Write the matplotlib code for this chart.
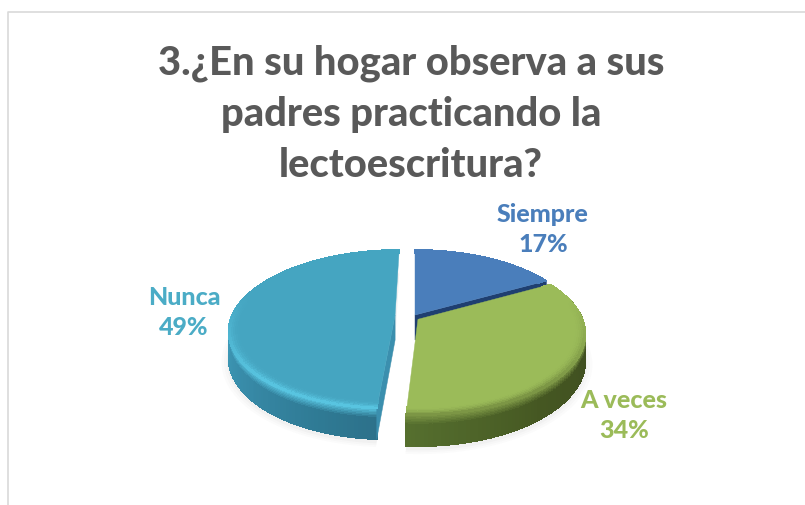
import numpy as np
import matplotlib
matplotlib.use("Agg")
import matplotlib.pyplot as plt
from matplotlib.collections import PolyCollection
from matplotlib.colors import to_rgb

title = "3.¿En su hogar observa a sus\npadres practicando la\nlectoescritura?"
categories = ["Siempre", "A veces", "Nunca"]
values = [17, 34, 49]

face_colors = {"Siempre": "#4a7ebb", "A veces": "#9bbb59", "Nunca": "#45a5c1"}
label_colors = {"Siempre": "#4a7ebb", "A veces": "#9bbb59", "Nunca": "#4bacc6"}
rim_colors = {"Siempre": "#4a7ebb", "A veces": "#7c9645", "Nunca": "#58c4e0"}
side_stops = {
    "A veces": ([60, 100, 140, 185], ["#3a4819", "#3f4e20", "#455722", "#56702f"]),
    "Nunca": ([180, 200, 230, 270, 300], ["#2c6f88", "#2f7a94", "#3789a6", "#3f9cba", "#45a5c1"]),
}
wall_colors = {"Siempre": "#1f3f70", "Nunca": "#3b8fae"}
explode = {"Siempre": (0.0, 0.0, 0.0), "A veces": (0.0, 0.018, -0.055), "Nunca": (7.0, -0.165, 0.0)}
label_pos = {"Siempre": (543, 229.5), "A veces": (624, 415.5), "Nunca": (184, 312.5)}

CX, CY, RX, RY, P, H = 415, 316, 163, 77, 0.18, 25

plt.rcParams["font.family"] = ["Lato", "DejaVu Sans"]
fig = plt.figure(figsize=(8.05, 5.06), dpi=100)
ax = fig.add_axes([0, 0, 1, 1])
ax.set_xlim(0, 805)
ax.set_ylim(506, 0)
ax.axis("off")


def proj(u, v, z=0.0, dx=0.0):
    k = 1 / (1 + P * v)
    return CX + dx + RX * u * k, CY - RY * v * k + z * H * k


def mix(a, b, t):
    a, b = np.array(to_rgb(a)), np.array(to_rgb(b))
    return tuple(a + (b - a) * float(np.clip(t, 0, 1)))


def side_color(name, deg):
    xs, cs = side_stops[name]
    rgb = np.array([to_rgb(c) for c in cs])
    return np.array([np.interp(deg, xs, rgb[:, i]) for i in range(3)])


def grid_quads(xy):
    return [[xy[i, j], xy[i + 1, j], xy[i + 1, j + 1], xy[i, j + 1]]
            for i in range(xy.shape[0] - 1) for j in range(xy.shape[1] - 1)]


bounds = np.cumsum([0] + values) / sum(values) * 360
spans = {n: (bounds[i], bounds[i + 1]) for i, n in enumerate(categories)}


def draw_shadow(name):
    a, b = spans[name]
    dx, u0, v0 = explode[name]
    t = np.radians(np.linspace(a, b, 90))
    for s, al in [(1.04, 0.02), (1.025, 0.025), (1.01, 0.03)]:
        u = np.concatenate([[0], np.sin(t) * s])
        v = np.concatenate([[0], np.cos(t) * s])
        x, y = proj(u + u0, v + v0, 1.0, dx)
        ax.fill(x, y + 3, color="#555555", alpha=al, lw=0, zorder=1)


def draw_side(name, z0):
    a, b = spans[name]
    dx, u0, v0 = explode[name]
    lo, hi = max(a, 75), min(b, 285)
    degs = np.linspace(lo, hi, 90)
    zs = np.concatenate([np.linspace(0, 0.3, 7), np.linspace(0.36, 1, 6)])
    xy = np.zeros((len(degs), len(zs), 2))
    cols = []
    for i, d in enumerate(degs):
        t = np.radians(d)
        x, y = proj(np.sin(t) + u0, np.cos(t) + v0, zs, dx)
        xy[i, :, 0], xy[i, :, 1] = x, y
    # smooth outline below the unsmoothed shading cells
    ox = np.concatenate([xy[:, 0, 0], xy[::-1, -1, 0]])
    oy = np.concatenate([xy[:, 0, 1], xy[::-1, -1, 1]])
    ax.fill(ox, oy, color=tuple(side_color(name, (lo + hi) / 2)), lw=0.6, zorder=z0)
    for i in range(len(degs) - 1):
        base = side_color(name, degs[i])
        for j in range(len(zs) - 1):
            cols.append(mix(rim_colors[name], base, zs[j] / 0.3))
    ax.add_collection(PolyCollection(grid_quads(xy), facecolors=cols, edgecolors=cols,
                                     linewidths=0.5, antialiaseds=False, zorder=z0 + 0.05))


def draw_wall(name, deg, z0):
    dx, u0, v0 = explode[name]
    t = np.radians(deg)
    r = np.array([0, 1, 1, 0])
    z = np.array([0, 0, 1, 1])
    x, y = proj(r * np.sin(t) + u0, r * np.cos(t) + v0, z, dx)
    ax.fill(x, y, color=wall_colors[name], lw=0.3, zorder=z0)


def draw_top(name, z0):
    a, b = spans[name]
    dx, u0, v0 = explode[name]
    t = np.radians(np.linspace(a, b, 120))
    u = np.concatenate([[0], np.sin(t)])
    v = np.concatenate([[0], np.cos(t)])
    x, y = proj(u + u0, v + v0, 0, dx)
    ax.fill(x, y, color=face_colors[name], lw=0.3, zorder=z0)
    rs = np.linspace(0.93, 1.0, 7)
    xy = np.zeros((len(t), len(rs), 2))
    cols = []
    for i, th in enumerate(t):
        px, py = proj(np.sin(th) * rs + u0, np.cos(th) * rs + v0, 0, dx)
        xy[i, :, 0], xy[i, :, 1] = px, py
    for i in range(len(t) - 1):
        w = np.clip(0.25 - np.cos(t[i]), 0, 1) if name != "Siempre" else 0
        for j in range(len(rs) - 1):
            f = (j / (len(rs) - 2)) ** 2
            cols.append(mix(face_colors[name], rim_colors[name], f * w))
    ax.add_collection(PolyCollection(grid_quads(xy), facecolors=cols, edgecolors=cols,
                                     linewidths=0.3, antialiaseds=False, zorder=z0 + 0.1))


draw_shadow("Nunca")
draw_shadow("A veces")
draw_side("Nunca", 2)
draw_wall("Nunca", spans["Nunca"][0], 3)
draw_top("Nunca", 4)
draw_wall("Siempre", spans["Siempre"][1], 5)
draw_top("Siempre", 6)
draw_side("A veces", 7)
draw_top("A veces", 8)

# chart frame
ax.plot([8, 8, 805], [506, 13, 13], color="#d9d9d9", lw=1.2, zorder=0)

ax.text(411, 114, title, ha="center", va="center", fontsize=28.7, fontweight=900,
        color="#595959", linespacing=1.47, zorder=10)

for name, val in zip(categories, values):
    x, y = label_pos[name]
    ax.text(x, y, f"{name}\n{val}%", ha="center", va="center", fontsize=18, fontweight=900,
            color=label_colors[name], linespacing=1.4, zorder=10)

fig.savefig("out.png", dpi=100)
